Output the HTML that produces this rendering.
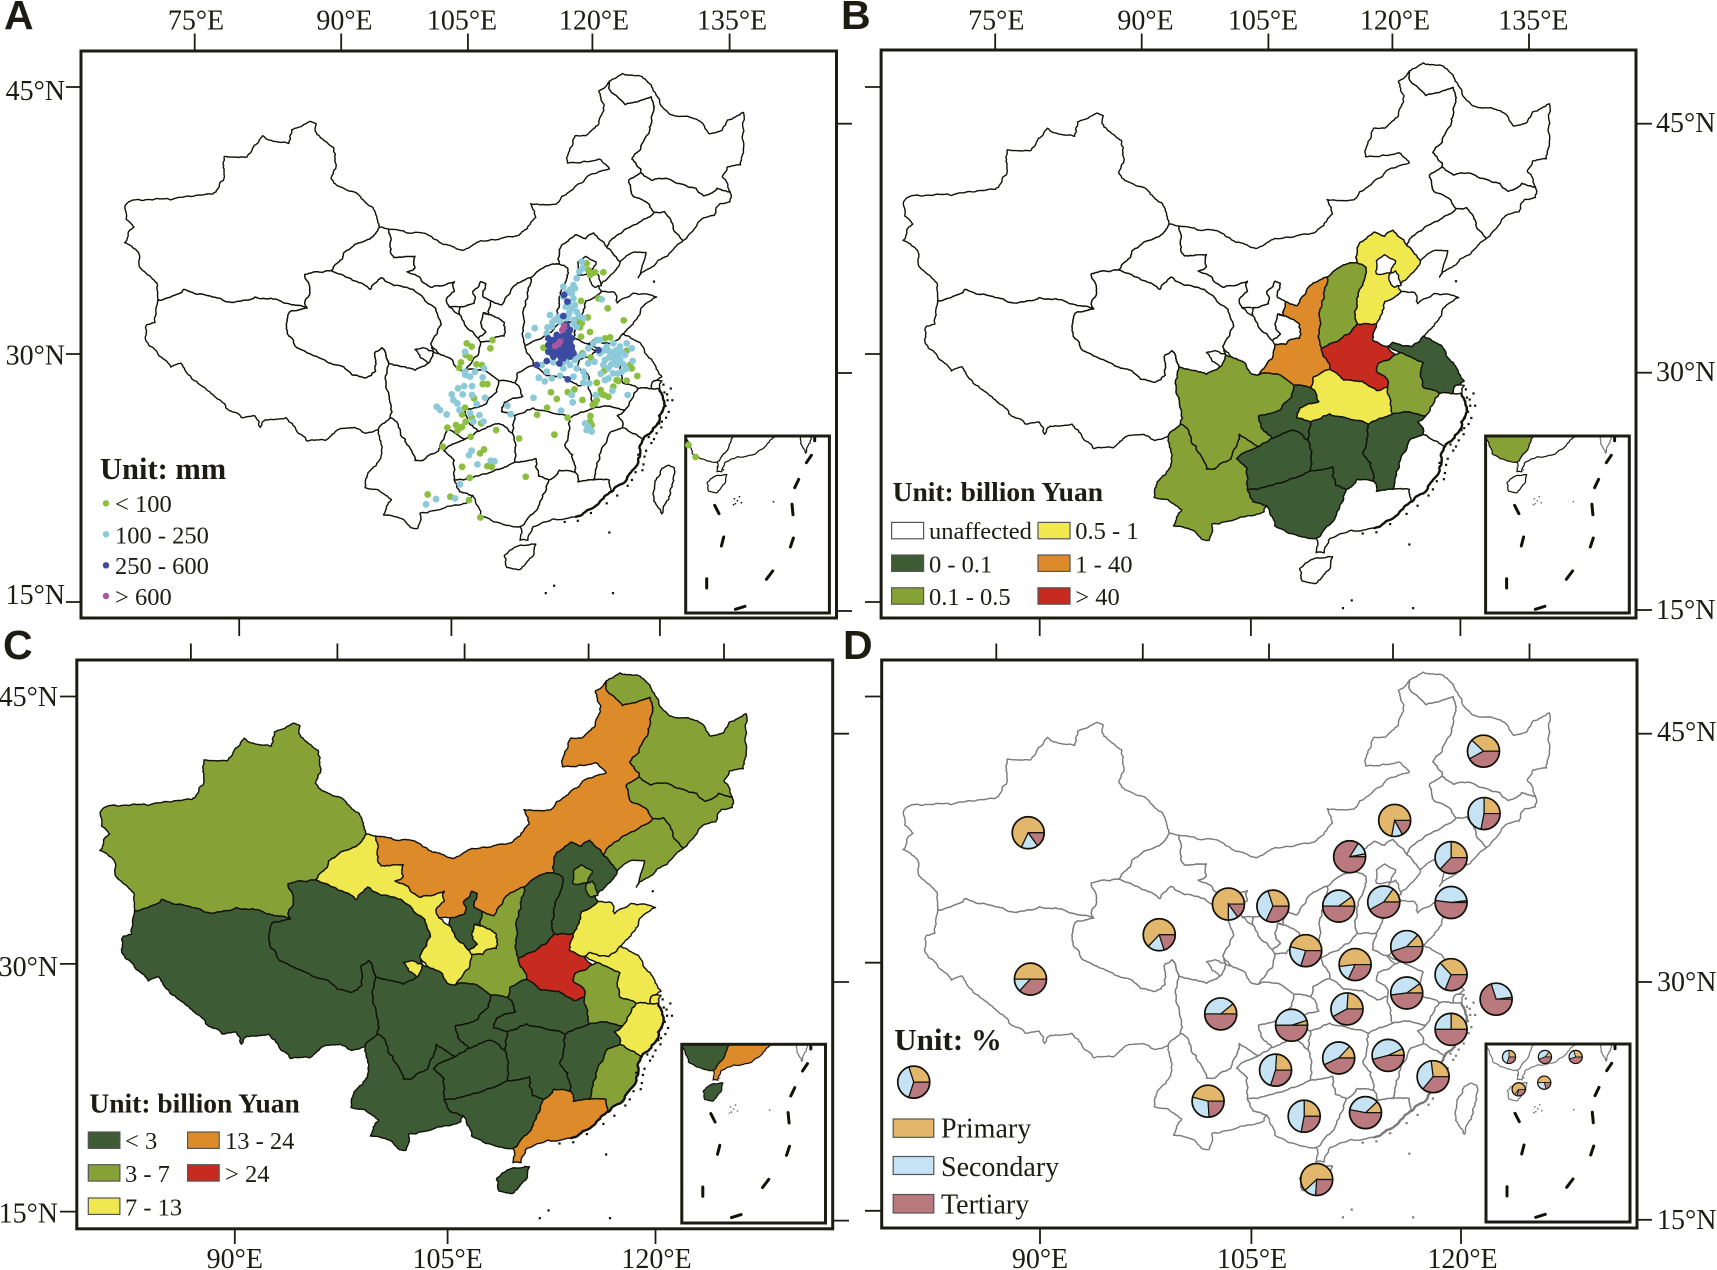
<!DOCTYPE html>
<html lang="en">
<head>
<meta charset="utf-8">
<title>China drought maps</title>
<style>
html,body{margin:0;padding:0;background:#fff;}
svg{display:block;}
text{font-family:"Liberation Serif",serif;fill:#1c1c12;}
.t{font-size:28px;}
.l{font-size:24.5px;}
.b{font-weight:bold;}
.letter{font-family:"Liberation Sans",sans-serif;font-weight:bold;font-size:41px;}
.frame{fill:none;stroke:#1c1c12;stroke-width:3;}
.sw{stroke:#555;stroke-width:1.2;}
</style>
</head>
<body>
<svg id="figure" xmlns="http://www.w3.org/2000/svg" width="1717" height="1270" viewBox="0 0 1717 1270">
<rect width="1717" height="1270" fill="#fff"/>
<g id="maps"></g>
<g id="axes"></g>

<text class="letter" x="4" y="29">A</text>
<text class="letter" x="841" y="29">B</text>
<text class="letter" x="3" y="659">C</text>
<text class="letter" x="843" y="659">D</text>

<g>
<text class="b" x="100" y="479" font-size="30.5">Unit: mm</text>
<circle cx="106" cy="503.3" r="3.2" fill="#8cbf3f"/>
<text class="l" x="115" y="512">&lt; 100</text>
<circle cx="106" cy="534.3" r="3.2" fill="#8cc9d9"/>
<text class="l" x="115" y="543.7">100 - 250</text>
<circle cx="106" cy="565.3" r="3.2" fill="#3b4ba0"/>
<text class="l" x="115" y="574">250 - 600</text>
<circle cx="106" cy="596" r="3.2" fill="#a8569f"/>
<text class="l" x="115" y="605">&gt; 600</text>
</g>

<g>
<text class="b" x="892.6" y="501" font-size="27.5">Unit: billion Yuan</text>
<rect class="sw" x="891.6" y="522.4" width="32" height="16.4" fill="#fff"/>
<text class="l" x="929" y="539">unaffected</text>
<rect class="sw" x="891.6" y="555" width="32" height="16.4" fill="#3d5c35"/>
<text class="l" x="929" y="572.6">0 - 0.1</text>
<rect class="sw" x="891.6" y="587.8" width="32" height="16.4" fill="#86a136"/>
<text class="l" x="929" y="605">0.1 - 0.5</text>
<rect class="sw" x="1038" y="522.4" width="32" height="16.4" fill="#efe84e"/>
<text class="l" x="1075.3" y="539">0.5 - 1</text>
<rect class="sw" x="1038" y="555" width="32" height="16.4" fill="#dd8a2b"/>
<text class="l" x="1075.3" y="572.6">1 - 40</text>
<rect class="sw" x="1038" y="587.8" width="32" height="16.4" fill="#c72b1f"/>
<text class="l" x="1075.3" y="605">&gt; 40</text>
</g>

<g>
<text class="b" x="89.4" y="1112.4" font-size="27.5">Unit: billion Yuan</text>
<rect class="sw" x="88.3" y="1132" width="31.6" height="16.4" fill="#3d5c35"/>
<text class="l" x="125" y="1149">&lt; 3</text>
<rect class="sw" x="88.3" y="1164.7" width="31.6" height="16.4" fill="#86a136"/>
<text class="l" x="125" y="1182">3 - 7</text>
<rect class="sw" x="88.3" y="1198" width="31.6" height="16.4" fill="#efe84e"/>
<text class="l" x="125" y="1215.7">7 - 13</text>
<rect class="sw" x="187.6" y="1132" width="31.6" height="16.4" fill="#dd8a2b"/>
<text class="l" x="225" y="1149">13 - 24</text>
<rect class="sw" x="187.6" y="1164.7" width="31.6" height="16.4" fill="#c72b1f"/>
<text class="l" x="225" y="1182">&gt; 24</text>
</g>

<g>
<text class="b" x="894.3" y="1050" font-size="31">Unit: %</text>
<rect class="sw" x="893.2" y="1119" width="40.6" height="18.3" fill="#e3b76b"/>
<text x="941" y="1137.3" font-size="28">Primary</text>
<rect class="sw" x="893.2" y="1156.5" width="40.6" height="18" fill="#c6e2f5"/>
<text x="941" y="1176" font-size="28">Secondary</text>
<rect class="sw" x="893.2" y="1194.5" width="40.6" height="18.5" fill="#b9797f"/>
<text x="941" y="1213.7" font-size="28">Tertiary</text>
</g>
</svg>

<script>
// ---------- chart data ----------
const provinceNames = ['Xinjiang','Tibet','Qinghai','Gansu','Ningxia','InnerMongolia','Heilongjiang','Jilin','Liaoning','Hebei','Beijing','Tianjin','Shanxi','Shaanxi','Henan','Shandong','Jiangsu','Shanghai','Anhui','Zhejiang','Fujian','Jiangxi','Hubei','Hunan','Chongqing','Sichuan','Yunnan','Guizhou','Guangxi','Guangdong','Hainan'];
const directLossB = [0,0,0,0,0,0,0,0,0,0.7,0,0,0.3,10,60,0,0.05,0,0.3,0,0,0.05,0.7,0.05,0.05,0.3,0.3,0.05,0.05,0,0];
const directLossC = [5,1,2,10,1,18,5,5,5,2,5,5,2,5,35,10,10,10,5,10,5,2,2,2,2,2,2,2,2,18,2];
const breaksB = [0.1,0.5,1,40];
const breaksC = [3,7,13,24];

// Rainfall stations as [longitude, latitude]
const stationsLow = [[114.79,34.73],[114.91,34.34],[115.15,34.15],[115.39,34.21],[115.98,34.21],[115.03,34.05],[114.39,32.54],[115.63,32.69],[116.29,32.11],[117.43,31.41],[114.87,31.58],[114.15,31.47],[114.44,31.24],[114.32,31.0],[115.03,30.73],[114.39,30.46],[116.1,30.36],[116.46,30.42],[115.08,29.25],[114.49,29.49],[117.64,29.64],[117.88,28.81],[118.0,28.61],[116.03,28.46],[118.4,28.17],[117.64,27.9],[116.93,27.93],[117.05,27.88],[116.69,27.55],[115.51,27.78],[115.79,27.35],[115.86,27.12],[116.34,26.96],[116.03,27.06],[115.51,26.77],[115.39,26.57],[115.22,26.48],[113.44,27.23],[113.92,27.39],[114.49,26.77],[112.66,26.83],[112.25,27.22],[111.97,26.32],[111.26,25.91],[113.44,25.74],[115.06,25.84],[115.03,25.51],[115.15,25.31],[112.49,24.75],[109.98,24.53],[108.34,25.02],[107.48,23.89],[107.2,23.66],[105.92,22.88],[107.72,22.92],[108.03,22.88],[106.46,22.24],[110.45,22.3],[106.41,20.94],[107.22,19.93],[103.47,21.27],[105.08,21.14],[104.54,24.05],[106.53,24.63],[104.87,25.16],[105.49,25.31],[105.73,25.12],[105.58,24.98],[105.92,25.21],[106.18,25.51],[106.6,25.74],[107.27,25.41],[105.92,25.93],[106.13,26.32],[106.77,26.87],[107.39,27.7],[107.72,27.7],[105.84,28.96],[105.7,28.65],[106.94,28.85],[107.32,28.81],[106.18,29.39],[106.49,29.23],[107.93,29.78],[108.08,30.26],[106.25,30.07],[106.6,29.88],[111.71,29.82],[122.55,23.45],[122.04,24.15]];
const stationsMedium = [[114.44,34.83],[114.51,34.44],[114.27,34.25],[114.08,33.86],[113.85,33.47],[113.61,33.18],[113.96,33.27],[113.13,33.37],[113.73,32.98],[113.85,32.69],[113.13,32.79],[113.73,32.11],[114.08,31.91],[113.49,31.72],[113.85,31.43],[112.18,31.72],[112.54,31.43],[112.3,31.04],[112.9,31.33],[113.37,31.53],[111.95,30.65],[111.09,30.96],[110.62,30.52],[114.08,31.04],[114.56,31.53],[115.86,32.63],[115.51,30.26],[115.74,30.26],[114.91,29.78],[115.27,30.07],[115.74,29.49],[116.22,29.88],[116.69,30.07],[117.17,29.88],[117.64,30.07],[118.0,29.78],[117.05,29.39],[116.58,29.39],[116.1,29.1],[115.98,28.81],[116.34,28.61],[116.93,28.81],[117.17,29.1],[117.52,29.39],[118.07,29.04],[117.29,28.42],[116.69,28.32],[116.34,28.03],[116.1,27.93],[117.05,28.32],[114.56,29.39],[113.96,29.1],[113.37,29.1],[113.61,28.81],[114.08,28.61],[114.56,28.42],[114.68,28.13],[113.85,28.13],[114.56,27.78],[114.98,27.74],[113.13,28.61],[112.42,28.96],[111.59,28.81],[111.95,28.42],[112.3,28.03],[112.9,28.19],[111.8,27.86],[111.38,28.07],[111.0,26.9],[113.73,27.06],[113.8,26.63],[112.97,26.15],[109.14,26.44],[109.38,25.95],[116.62,27.31],[117.71,27.06],[115.44,27.06],[114.68,25.41],[114.79,25.02],[115.15,24.94],[114.91,25.21],[106.6,23.82],[106.41,23.56],[107.01,23.02],[107.96,23.23],[108.22,23.2],[105.77,21.86],[105.42,21.04],[104.06,21.0],[103.35,20.69],[106.15,28.23],[106.49,28.13],[106.84,28.42],[107.48,28.61],[107.39,28.09],[106.63,27.58],[106.06,27.58],[105.63,27.45],[105.18,27.1],[105.96,27.1],[106.63,27.06],[107.55,26.9],[105.3,26.77],[105.58,26.57],[104.11,26.38],[104.35,26.19],[104.82,25.93],[105.73,26.19],[106.96,26.54],[107.15,25.89],[106.49,25.99],[106.13,28.42],[106.13,29.58],[107.44,25.51],[106.72,25.51],[113.35,33.0],[113.5,32.45],[113.95,32.3],[113.3,32.2],[113.55,31.85],[112.75,31.6],[112.35,31.3],[112.0,31.0],[113.9,31.2],[114.25,31.65],[116.4,29.6],[116.85,29.65],[117.3,29.55],[116.0,29.65],[116.4,29.25],[116.8,29.1],[117.4,28.85],[116.55,28.85],[117.6,28.6],[115.35,29.0],[115.8,28.3],[113.2,29.0],[114.2,29.3],[114.9,28.9]];
const stationsHigh = [[113.18,32.89],[113.42,32.5],[113.13,31.66],[113.37,31.14],[113.61,30.85],[113.13,30.85],[112.06,30.36],[112.42,30.26],[112.9,30.26],[113.37,30.46],[113.73,30.36],[112.06,29.97],[112.54,29.68],[113.01,29.49],[113.49,29.58],[113.73,29.88],[113.25,29.97],[112.78,29.88],[112.06,29.58],[113.37,29.39],[112.42,29.29],[111.95,29.04],[111.23,28.81],[112.85,28.9],[113.44,27.97],[115.63,29.68],[112.3,30.07],[113.61,30.07],[112.66,30.56],[113.13,30.56],[112.9,29.68],[113.37,29.78],[112.3,29.49],[113.85,29.49],[113.13,29.2],[112.55,30.05],[112.75,30.4],[113.0,30.05],[113.3,30.2],[113.5,30.6],[112.7,29.45],[113.2,29.55],[113.6,29.3],[112.25,29.75],[112.95,29.25],[113.4,29.95],[113.75,29.65],[112.5,29.85],[113.05,29.78],[113.25,30.7]];
const stationsExtreme = [[113.18,31.08],[113.06,30.85],[112.54,29.91],[112.9,30.17],[112.78,30.03]];

// GDP structure pies
const pieRegions = ['heilongjiang','jilin','liaoning','inner-mongolia','beijing','xinjiang','qinghai','tibet','gansu','ningxia','shaanxi','hebei','tianjin','sichuan-north','henan','shandong','jiangsu','anhui','shanghai','sichuan','chongqing','hubei','zhejiang','yunnan','guizhou','hunan','jiangxi','fujian','guangxi','guangdong','hainan'];
const pieLon = [121.61,121.65,119.3,115.28,112.07,89.16,98.5,89.32,103.43,106.6,111.29,114.5,119.3,108.94,112.46,116.14,119.3,116.14,122.51,102.88,107.93,111.88,119.3,101.98,106.79,111.29,114.81,118.02,108.83,113.2,109.72];
const pieLat = [41.81,38.17,35.6,37.77,35.65,37.05,31.1,28.51,32.89,32.77,32.77,33.01,32.98,30.17,29.36,30.41,28.77,27.7,27.34,26.48,25.82,26.77,25.58,21.39,23.2,23.91,24.06,22.82,20.51,20.72,16.82];
const primaryShare = [38,25,25,72,3,68,63,50,75,30,10,15,2,46,52,13,37,10,2,11,5,24,25,46,24,13,7,27,25,12,62];
const secondaryShare = [20,47,38,11,13,17,17,13,10,38,40,43,46,24,16,42,32,42,28,39,45,34,25,30,46,44,47,37,47,35,12];
const tertiaryShare = [42,28,37,17,84,15,20,37,15,32,50,42,52,30,32,45,31,48,70,50,50,42,50,24,30,43,46,36,28,53,26];

const insetPieLon = [123.43,125.99,128.18,124.12,125.94];
const insetPieLat = [23.97,23.97,23.97,22.08,22.47];
const insetPrimary = [25,14,30,65,50];
const insetSecondary = [45,42,25,6,30];
const insetTertiary = [30,44,45,29,20];

const legendPieLon = [81.0];
const legendPieLat = [22.5];
const legendPrimary = [30];
const legendSecondary = [40];
const legendTertiary = [30];

const lonTop = ['75°E','90°E','105°E','120°E','135°E'];
const lonBottom = ['90°E','105°E','120°E'];
const latLabels = ['45°N','30°N','15°N'];

// ---------- colours ----------
const classColors = ['#3d5c35','#86a136','#efe84e','#dd8a2b','#c72b1f'];
const pieColors = ['#e3b76b','#c6e2f5','#b9797f'];
const ink = '#111108';

// ---------- base outlines (tracing units) ----------
const outlines = {
Xinjiang:[[[535,228],[547,235],[548,262],[565,280],[580,295],[585,340],[575,375],[590,395],[620,410],[640,435],[655,450],[668,500],[665,505],[650,530],[620,545],[600,565],[590,590],[575,612],[545,615],[525,622],[535,660],[525,695],[530,708],[500,700],[470,685],[430,680],[405,690],[375,692],[350,680],[325,672],[295,660],[270,680],[245,688],[245,650],[230,625],[210,600],[205,560],[182,540],[200,500],[185,480],[183,445],[200,430],[235,430],[270,430],[350,415],[370,380],[372,318],[415,320],[425,300],[445,265],[470,280],[495,285],[500,250],[520,240]]],
Tibet:[[[245,688],[270,680],[295,660],[325,672],[350,680],[375,692],[405,690],[430,680],[470,685],[500,700],[530,708],[500,715],[492,740],[495,780],[510,810],[560,840],[600,860],[615,880],[640,888],[660,870],[660,820],[672,810],[685,850],[680,880],[685,930],[688,990],[665,1020],[640,1030],[620,1015],[590,1020],[565,1048],[530,1050],[510,1025],[490,990],[450,995],[440,1015],[430,985],[405,990],[375,965],[350,930],[310,890],[290,850],[270,860],[240,815],[222,790],[225,750],[240,745]]],
Qinghai:[[[525,622],[545,615],[575,612],[600,625],[625,640],[650,660],[670,630],[695,650],[720,655],[740,670],[775,710],[785,750],[765,800],[770,820],[760,850],[755,855],[735,868],[700,855],[685,850],[672,810],[660,820],[660,870],[640,888],[615,880],[600,860],[560,840],[510,810],[495,780],[492,740],[500,715],[530,708],[525,695],[535,660]]],
Gansu:[[[668,500],[685,505],[690,570],[695,578],[735,575],[735,605],[720,615],[745,630],[765,655],[810,640],[810,665],[795,685],[800,705],[820,725],[835,760],[855,785],[860,795],[855,830],[830,870],[815,865],[805,840],[780,825],[765,800],[785,750],[775,710],[740,670],[720,655],[695,650],[670,630],[650,660],[625,640],[600,625],[575,612],[590,590],[600,565],[620,545],[650,530],[665,505]],[[735,815],[750,810],[770,820],[760,850],[745,835]],[[860,745],[865,720],[880,725],[905,745],[905,780],[885,785],[880,795],[860,795],[855,785],[870,770]]],
Ningxia:[[[820,705],[848,695],[845,665],[860,640],[870,645],[865,680],[880,690],[875,725],[865,720],[860,745],[870,770],[855,785],[835,760],[820,725]]],
InnerMongolia:[[[685,505],[720,515],[760,520],[790,545],[825,560],[860,535],[920,525],[955,490],[965,475],[955,440],[1005,440],[1015,420],[1040,395],[1060,375],[1105,350],[1085,325],[1050,335],[1025,335],[1040,265],[1060,265],[1085,235],[1095,185],[1085,150],[1105,125],[1110,155],[1135,185],[1185,165],[1190,200],[1180,260],[1165,300],[1148,325],[1165,350],[1165,360],[1142,380],[1150,420],[1175,435],[1190,462],[1160,490],[1110,530],[1100,552],[1085,530],[1075,515],[1060,530],[1040,520],[1015,545],[1010,595],[985,600],[955,630],[925,650],[900,700],[880,690],[865,680],[870,645],[860,640],[845,665],[848,695],[820,705],[800,705],[795,685],[810,665],[810,640],[765,655],[745,630],[720,615],[735,605],[735,575],[695,578],[690,570]]],
Heilongjiang:[[[1105,125],[1130,105],[1160,110],[1185,135],[1200,170],[1220,210],[1245,215],[1280,230],[1295,260],[1320,250],[1330,225],[1360,205],[1360,300],[1355,340],[1330,345],[1320,370],[1335,410],[1310,400],[1285,420],[1270,400],[1245,390],[1215,375],[1185,380],[1165,360],[1165,350],[1148,325],[1165,300],[1180,260],[1190,200],[1185,165],[1135,185],[1110,155]]],
Jilin:[[[1142,380],[1165,360],[1185,380],[1215,375],[1245,390],[1270,400],[1285,420],[1310,400],[1335,410],[1335,435],[1315,440],[1305,470],[1280,480],[1260,515],[1245,535],[1225,490],[1210,460],[1190,462],[1175,435],[1150,420]]],
Liaoning:[[[1110,530],[1160,490],[1190,462],[1210,460],[1225,490],[1245,535],[1215,575],[1190,600],[1160,630],[1170,590],[1175,565],[1150,565],[1125,590],[1110,565],[1100,552]]],
Hebei:[[[1015,545],[1040,520],[1060,530],[1075,515],[1085,530],[1100,552],[1110,565],[1125,590],[1100,635],[1085,650],[1090,665],[1060,690],[1045,745],[1010,745],[1005,715],[1020,650],[1025,605],[1010,595]]],
Beijing:[[[1045,590],[1060,575],[1080,590],[1070,620],[1045,622]]],
Tianjin:[[[1070,620],[1080,615],[1090,650],[1078,655],[1068,630]]],
Shanxi:[[[1010,595],[1025,605],[1020,650],[1005,715],[1010,745],[985,775],[945,805],[940,760],[945,690],[955,630],[985,600]]],
Shaanxi:[[[925,650],[955,630],[945,690],[940,760],[945,805],[960,855],[930,875],[925,900],[895,895],[870,870],[845,865],[830,870],[855,830],[860,795],[880,795],[885,785],[905,780],[905,745],[880,725],[875,725],[880,690],[900,700]]],
Henan:[[[1010,745],[1045,745],[1038,785],[1065,800],[1080,820],[1050,840],[1045,860],[1065,880],[1065,900],[1045,908],[1020,885],[985,882],[960,855],[945,805],[985,775]]],
Shandong:[[[1060,690],[1090,665],[1115,668],[1120,695],[1150,670],[1195,680],[1165,710],[1150,750],[1130,775],[1110,800],[1075,790],[1065,800],[1038,785],[1045,745]]],
Jiangsu:[[[1075,790],[1110,800],[1130,775],[1165,800],[1190,850],[1205,885],[1190,895],[1185,915],[1160,915],[1130,900],[1125,865],[1130,840],[1090,815],[1065,800]]],
Shanghai:[[[1190,895],[1205,895],[1200,915],[1185,915]]],
Anhui:[[[1080,820],[1090,815],[1130,840],[1125,865],[1130,900],[1160,915],[1135,970],[1105,960],[1075,965],[1065,900],[1065,880],[1045,860],[1050,840]]],
Zhejiang:[[[1160,915],[1185,915],[1200,915],[1210,960],[1195,1010],[1170,1045],[1130,1015],[1120,985],[1135,970]]],
Fujian:[[[1105,1030],[1130,1015],[1170,1045],[1160,1100],[1130,1160],[1110,1180],[1105,1150],[1075,1150],[1080,1120]]],
Jiangxi:[[[1030,990],[1075,965],[1105,960],[1135,970],[1120,985],[1130,1015],[1105,1030],[1080,1120],[1075,1150],[1045,1155],[1040,1130],[1035,1085],[1020,1060]]],
Hubei:[[[925,900],[930,875],[960,855],[985,882],[1020,885],[1045,908],[1065,900],[1075,965],[1030,990],[990,975],[960,965],[925,985],[900,975],[905,950],[940,935]]],
Hunan:[[[925,985],[960,965],[990,975],[1030,990],[1020,1060],[1035,1085],[1040,1130],[1010,1125],[990,1150],[970,1140],[965,1095],[925,1105],[920,1030]]],
Chongqing:[[[895,895],[925,900],[940,935],[905,950],[900,975],[925,985],[920,1030],[895,1005],[855,1025],[835,1000],[830,970],[870,955],[885,930]]],
Sichuan:[[[672,810],[685,850],[700,855],[735,868],[755,855],[760,850],[770,820],[780,825],[805,840],[815,865],[830,870],[845,865],[870,870],[895,895],[885,930],[870,955],[830,970],[835,1000],[855,1025],[830,1045],[795,1015],[780,1075],[750,1100],[735,1100],[720,1060],[700,1000],[688,990],[685,930],[680,880],[685,850]]],
Yunnan:[[[665,1020],[688,990],[700,1000],[720,1060],[735,1100],[750,1100],[780,1075],[795,1015],[830,1045],[790,1075],[810,1100],[810,1150],[820,1180],[845,1190],[840,1205],[785,1225],[745,1235],[740,1275],[725,1270],[700,1245],[675,1240],[690,1200],[665,1175],[640,1170],[645,1135],[670,1090],[670,1050]]],
Guizhou:[[[790,1075],[830,1045],[855,1025],[895,1005],[920,1030],[925,1105],[880,1130],[840,1145],[810,1150],[810,1100]]],
Guangxi:[[[810,1150],[840,1145],[880,1130],[925,1105],[965,1095],[970,1140],[990,1150],[985,1175],[965,1230],[935,1270],[895,1260],[860,1240],[850,1205],[845,1190],[820,1180]]],
Guangdong:[[[990,1150],[1010,1125],[1040,1130],[1045,1155],[1075,1150],[1105,1150],[1110,1180],[1085,1210],[1040,1245],[1000,1250],[960,1270],[950,1305],[935,1305],[935,1270],[965,1230],[985,1175]]],
Hainan:[[[905,1345],[930,1320],[965,1315],[960,1345],[935,1380],[910,1375]]]
};
const taiwanOutline = [[1218,1112],[1228,1118],[1225,1160],[1212,1210],[1205,1237],[1195,1215],[1188,1185],[1195,1145],[1205,1120]];
const coastLine = [[1200,915],[1210,960],[1195,1010],[1170,1045],[1160,1100],[1130,1160],[1110,1180],[1085,1210],[1040,1245]];
const coastIslands = [[1215,930],[1222,915],[1225,945],[1212,960],[1218,975],[1205,1000],[1195,1030],[1185,1055],[1175,1075],[1170,1110],[1155,1130],[1160,1085],[1200,1005],[1190,640],[1210,925],[1208,905],[1216,945],[1206,975],[1213,990],[1204,1015],[1190,1045],[1180,1040],[1172,1090],[1168,1125],[1148,1150],[1140,1165],[1120,1190],[1100,1210],[1070,1235],[1045,1255],[1020,1258],[1000,1422],[984,1441],[1112,1441],[1105,1285]];
const insetDashes = [[125.7,19.3,120.7,26.7],[113,43.3,109,51.7],[29,69.3,33.3,77.7],[106.3,68.3,107.3,78.7],[38,101,35.7,110],[107.7,102,104.7,111],[21,142.7,21,152],[87,135,80.7,143.3],[59.3,170.3,49.7,173.3],[129,2,129,4.7]];
const insetSpecks = [[48,62],[51,64],[53,60],[49,67],[55,66],[47,68],[87,65],[31,30],[37,33]];

// ---------- helpers ----------
const NS = 'http://www.w3.org/2000/svg';
const mapsLayer = document.getElementById('maps');
const axesLayer = document.getElementById('axes');
function make(parent, tag, attrs){
  const el = document.createElementNS(NS, tag);
  for (const k in attrs) el.setAttribute(k, attrs[k]);
  parent.appendChild(el);
  return el;
}
function hashNoise(x, y){
  const v = Math.sin(x * 12.9898 + y * 78.233) * 43758.5453;
  return v - Math.floor(v);
}
function wobble(a, b, depth, out){
  const d = Math.hypot(a[0]-b[0], a[1]-b[1]);
  if (depth === 0 || d < 4.5) return;
  const mx = (a[0]+b[0])/2, my = (a[1]+b[1])/2;
  const amp = Math.min(d * 0.24, 7);
  const m = [mx + (hashNoise(mx, my) - 0.5) * amp, my + (hashNoise(my, mx) - 0.5) * amp];
  wobble(a, m, depth-1, out);
  out.push(m);
  wobble(m, b, depth-1, out);
}
function roughRing(ring){
  const out = [];
  for (let i = 0; i < ring.length; i++){
    const a = ring[i], b = ring[(i+1) % ring.length];
    out.push(a);
    wobble(a, b, 4, out);
  }
  return out;
}
function roughLine(line){
  const out = [];
  for (let i = 0; i < line.length - 1; i++){
    out.push(line[i]);
    wobble(line[i], line[i+1], 4, out);
  }
  out.push(line[line.length-1]);
  return out;
}
const roughOutlines = {};
Object.keys(outlines).forEach(function(n){ roughOutlines[n] = outlines[n].map(roughRing); });
const roughTaiwan = roughRing(taiwanOutline);
const roughCoast = roughLine(coastLine);

function classify(value, breaks){
  let i = 0;
  while (i < breaks.length && value >= breaks[i]) i++;
  return classColors[i];
}
function ringToD(ring, project){
  return 'M' + ring.map(function(p){ const q = project(p); return q[0].toFixed(1) + ' ' + q[1].toFixed(1); }).join('L') + 'Z';
}
function lineToD(line, project){
  return 'M' + line.map(function(p){ const q = project(p); return q[0].toFixed(1) + ' ' + q[1].toFixed(1); }).join('L');
}

// Panel projections from tracing units to page pixels
const projA = function(p){ return [(228 + (p[0]-183)*0.9575)/1.823, (180 + (p[1]-105)*0.953)/2.45]; };
const projB = function(p){ return [803.2 + p[0]/1.823, 20 + p[1]/2.45]; };
const projC = function(p){ return [p[0]/1.823, 630 + p[1]/2.45]; };
const projD = function(p){ return [803.2 + p[0]/1.823, 629.2 + p[1]/2.45]; };
function insetProjection(fx, fy){
  return function(p){
    const xi = 1300 + (p[0]-935)*0.6 - 1243;
    const yi = 1130 + (p[1]-1345)*0.68 - 1015;
    return [fx + xi/1.823, fy + yi/2.45];
  };
}

function fillFor(panelKey, name){
  const idx = provinceNames.indexOf(name);
  if (panelKey === 'b'){
    const v = directLossB[idx];
    return v === 0 ? '#fff' : classify(v, breaksB);
  }
  if (panelKey === 'c') return classify(directLossC[idx], breaksC);
  return '#fff';
}

function drawProvinces(group, panelKey, project, stroke, sw, override){
  provinceNames.forEach(function(name){
    const d = roughOutlines[name].map(function(r){ return ringToD(r, project); }).join('');
    const fill = (override && override[name]) || fillFor(panelKey, name);
    const el = make(group, 'path', {d: d, fill: fill, stroke: stroke, 'stroke-width': sw, 'stroke-linejoin': 'round'});
    
    
  });
}

function drawPanel(key, project, inset, stroke, showTaiwan, override){
  const g = make(mapsLayer, 'g', {});
  
  
  drawProvinces(g, key, project, stroke, 1.4, null);
  if (showTaiwan){
    const tw = make(g, 'path', {d: ringToD(roughTaiwan, project), fill: '#fff', stroke: stroke, 'stroke-width': 1.4});
    
    
  }
  const coast = make(g, 'path', {d: lineToD(roughCoast, project), fill: 'none', stroke: stroke, 'stroke-width': 2.4, 'stroke-linejoin': 'round'});
  
  
  coastIslands.forEach(function(p){
    const q = project(p);
    const dot = make(g, 'rect', {x: q[0]-1.1, y: q[1]-1.1, width: 2.2, height: 2.2, fill: stroke});
    
    
  });

  const ig = make(mapsLayer, 'g', {});
  
  
  const clipId = 'clip-' + key;
  const cp = make(ig, 'clipPath', {id: clipId});
  make(cp, 'rect', {x: inset[0], y: inset[1], width: inset[2], height: inset[3]});
  const bg = make(ig, 'rect', {x: inset[0], y: inset[1], width: inset[2], height: inset[3], fill: '#fff'});
  
  
  const clipped = make(ig, 'g', {'clip-path': 'url(#' + clipId + ')'});
  const ip = insetProjection(inset[0], inset[1]);
  drawProvinces(clipped, key, ip, stroke, 1.2, override);
  const itw = make(clipped, 'path', {d: ringToD(roughTaiwan, ip), fill: '#fff', stroke: key === 'a' ? ink : '#777', 'stroke-width': 1.2});
  
  
  insetSpecks.forEach(function(s){
    const sp = make(ig, 'rect', {x: inset[0]+s[0], y: inset[1]+s[1], width: 1.5, height: 1.5, fill: key === 'a' ? ink : '#777'});
    
    
  });
  insetDashes.forEach(function(s){
    const ln = make(ig, 'line', {x1: inset[0]+s[0], y1: inset[1]+s[1], x2: inset[0]+s[2], y2: inset[1]+s[3], stroke: ink, 'stroke-width': 3, 'stroke-linecap': 'round'});
    
    
  });
  const fr = make(ig, 'rect', {x: inset[0], y: inset[1], width: inset[2], height: inset[3], fill: 'none', stroke: '#1c1c12', 'stroke-width': 3});
  
  
}

drawPanel('a', projA, [685.7,436,143.7,177], ink, true, null);
drawPanel('b', projB, [1485.6,436,143.7,177], ink, false, {Guangxi:'#86a136', Guangdong:'#fff', Yunnan:'#86a136'});
drawPanel('c', projC, [681.8,1044.3,143.7,178.7], ink, false, null);
drawPanel('d', projD, [1486,1044,144,178], '#7a7a7a', true, null);

// ---------- Panel A stations ----------
function xA(lon){ return 238.6 + (lon - 90) * 14.04; }
function yA(lat){ return 87 + (45 - lat) * 17.17; }
function drawStations(list, color, name){
  const g = make(mapsLayer, 'g', {});
  
  
  list.forEach(function(s){
    const c = make(g, 'circle', {cx: xA(s[0]), cy: yA(s[1]), r: 3.4, fill: color});
    
    
  });
}
drawStations(stationsLow, '#8cbf3f', 'low');
drawStations(stationsMedium, '#8cc9d9', 'medium');
drawStations(stationsHigh, '#3b4ba0', 'high');
drawStations(stationsExtreme, '#a8569f', 'extreme');

// ---------- Panel D pies ----------
function xD(lon){ return 1040 + (lon - 90) * 14.03; }
function yD(lat){ return 696.5 + (45 - lat) * 17.14; }
function drawPie(parent, lon, lat, r, shares, name){
  const cx = xD(lon), cy = yD(lat);
  const total = shares[0] + shares[1] + shares[2];
  const g = make(parent, 'g', {});
  
  
  let angle = 0;
  shares.forEach(function(v, i){
    const sweep = v / total * Math.PI * 2;
    const a2 = angle + sweep;
    const x1 = cx + r * Math.cos(angle), y1 = cy - r * Math.sin(angle);
    const x2 = cx + r * Math.cos(a2), y2 = cy - r * Math.sin(a2);
    const large = sweep > Math.PI ? 1 : 0;
    const d = 'M' + cx.toFixed(2) + ' ' + cy.toFixed(2) + 'L' + x1.toFixed(2) + ' ' + y1.toFixed(2) + 'A' + r + ' ' + r + ' 0 ' + large + ' 0 ' + x2.toFixed(2) + ' ' + y2.toFixed(2) + 'Z';
    const s = make(g, 'path', {d: d, fill: pieColors[i], stroke: ink, 'stroke-width': r > 10 ? 1.2 : 0.8});
    
    
    angle = a2;
  });
  const o = make(g, 'circle', {cx: cx, cy: cy, r: r, fill: 'none', stroke: ink, 'stroke-width': r > 10 ? 1.7 : 1.2});
  
  
}
const pieLayer = make(mapsLayer, 'g', {});


pieRegions.forEach(function(n, i){
  drawPie(pieLayer, pieLon[i], pieLat[i], 16, [primaryShare[i], secondaryShare[i], tertiaryShare[i]], n);
});
insetPieLon.forEach(function(lon, i){
  drawPie(pieLayer, lon, insetPieLat[i], 6.6, [insetPrimary[i], insetSecondary[i], insetTertiary[i]], 'inset-' + i);
});
legendPieLon.forEach(function(lon, i){
  drawPie(pieLayer, lon, legendPieLat[i], 16, [legendPrimary[i], legendSecondary[i], legendTertiary[i]], 'legend');
});

// ---------- Frames, ticks, labels ----------
const frames = [
 {k:'a', f:[81,51,836.5,618], top:[194.7,341.2,467.9,592.4,729.6], topY:33.5, left:[87,354,602], leftX:66, right:[123.7,373,611], rightX:852, bottom:[239.2,451.4,659.9], bottomY:636,
  topLab:[196,344.5,462,594,732], topLabY:29.4, leftLab:[100,364.5,604], leftLabX:65},
 {k:'b', f:[881.1,50,1636,618], top:[995.2,1141.7,1268.4,1392.4,1529], topY:33.5, left:[87,354,602], leftX:865, right:[123.7,372.7,610], rightX:1652, bottom:[1039.7,1250.9,1460.4], bottomY:636,
  topLab:[996.3,1145.5,1263,1395,1533.4], topLabY:29.4, rightLab:[132,381,619], rightLabX:1656},
 {k:'c', f:[76.8,660,832.7,1228.8], top:[190.9,337.4,464.6,588.6,724], topY:643.5, left:[696.5,963.9,1211.6], leftX:60, right:[733.7,982,1220.6], rightX:849, bottom:[234.8,447.6,655.5], bottomY:1244,
  botLab:[234.8,447.6,656.5], leftLab:[706,976,1222.6], leftLabX:58},
 {k:'d', f:[881.7,660,1637,1228], top:[996.3,1142.8,1269,1393,1529.5], topY:643.5, left:[696.5,962.7,1210.8], leftX:865, right:[733.7,982,1219.8], rightX:1652, bottom:[1040,1251.4,1461], bottomY:1244,
  botLab:[1040,1252,1462.5], rightLab:[741,991,1229], rightLabX:1657}
];
frames.forEach(function(p){
  const f = p.f;
  const g = make(axesLayer, 'g', {});
  
  
  const r = make(g, 'rect', {class: 'frame', x: f[0], y: f[1], width: f[2]-f[0], height: f[3]-f[1]});
  
  
  function tick(x1, y1, x2, y2){
    const l = make(g, 'line', {x1: x1, y1: y1, x2: x2, y2: y2, stroke: '#1c1c12', 'stroke-width': 1.8});
    
    
  }
  p.top.forEach(function(x){ tick(x, p.topY, x, f[1]); });
  p.bottom.forEach(function(x){ tick(x, f[3], x, p.bottomY); });
  p.left.forEach(function(y){ tick(p.leftX, y, f[0], y); });
  p.right.forEach(function(y){ tick(f[2], y, p.rightX, y); });
  function label(txt, x, y, anchor, name){
    const t = make(g, 'text', {class: 't', x: x, y: y, 'text-anchor': anchor});
    t.textContent = txt;
    
    
  }
  if (p.topLab) p.topLab.forEach(function(x, i){ label(lonTop[i], x, p.topLabY, 'middle', 'longitude-label'); });
  if (p.botLab) p.botLab.forEach(function(x, i){ label(lonBottom[i], x, 1268, 'middle', 'longitude-label'); });
  if (p.leftLab) p.leftLab.forEach(function(y, i){ label(latLabels[i], p.leftLabX, y, 'end', 'latitude-label'); });
  if (p.rightLab) p.rightLab.forEach(function(y, i){ label(latLabels[i], p.rightLabX, y, 'start', 'latitude-label'); });
});
</script>
</body>
</html>
